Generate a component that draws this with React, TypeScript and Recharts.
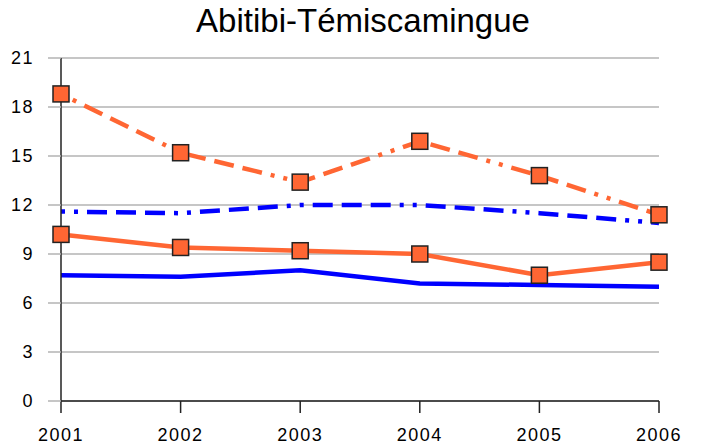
import React from 'react';
import { LineChart, Line, XAxis, YAxis, CartesianGrid } from 'recharts';

const years = ['2001', '2002', '2003', '2004', '2005', '2006'];
const orangeDashed = [18.8, 15.2, 13.4, 15.9, 13.8, 11.4];
const blueDashed = [11.6, 11.5, 12.0, 12.0, 11.5, 10.9];
const orangeSolid = [10.2, 9.4, 9.2, 9.0, 7.7, 8.5];
const blueSolid = [7.7, 7.6, 8.0, 7.2, 7.1, 7.0];
const yTicks = [0, 3, 6, 9, 12, 15, 18, 21];

const data = years.map((year, i) => ({
  year,
  orangeDashed: orangeDashed[i],
  blueDashed: blueDashed[i],
  orangeSolid: orangeSolid[i],
  blueSolid: blueSolid[i],
}));

const ORANGE = '#ff6633';
const BLUE = '#0000ff';
const DASH = '4 9 4 9 20 9 20 9 20 9';

const SquareDot = (props: any) => {
  const { cx, cy } = props;
  if (cx == null || cy == null) return null;
  return <rect x={cx - 8} y={cy - 8} width={16} height={16} fill={ORANGE} stroke="#222" strokeWidth={1.5} />;
};

const tickStyle = { fill: '#000', fontSize: 18, fontFamily: 'Liberation Sans', letterSpacing: 1.5 };

export default function App() {
  return (
    <div style={{ position: 'absolute', left: 0, top: 0, width: 702, height: 446, background: '#fff' }}>
      <div
        style={{
          position: 'absolute',
          top: 4,
          left: 363,
          transform: 'translateX(-50%)',
          fontFamily: 'Liberation Sans',
          fontSize: 33,
          lineHeight: '33px',
          whiteSpace: 'nowrap',
          color: '#000',
        }}
      >
        Abitibi-Témiscamingue
      </div>
      <LineChart width={702} height={446} data={data} margin={{ top: 58, right: 43, bottom: 0, left: 0 }}>
        <CartesianGrid vertical={false} stroke="#b3b3b3" strokeWidth={1.5} />
        <XAxis
          dataKey="year"
          height={45}
          tick={tickStyle}
          tickSize={12}
          tickMargin={15}
          axisLine={{ stroke: '#222', strokeWidth: 1.5 }}
          tickLine={{ stroke: '#222', strokeWidth: 1.5 }}
        />
        <YAxis
          width={61}
          domain={[0, 21]}
          ticks={yTicks}
          interval={0}
          tick={tickStyle}
          tickSize={13}
          tickMargin={14}
          axisLine={{ stroke: '#222', strokeWidth: 1.5 }}
          tickLine={{ stroke: '#b3b3b3', strokeWidth: 1.5 }}
        />
        <Line dataKey="blueSolid" stroke={BLUE} strokeWidth={4.5} dot={false} isAnimationActive={false} />
        <Line dataKey="blueDashed" stroke={BLUE} strokeWidth={4.5} strokeDasharray={DASH} dot={false} isAnimationActive={false} />
        <Line dataKey="orangeSolid" stroke={ORANGE} strokeWidth={4.5} dot={<SquareDot />} isAnimationActive={false} />
        <Line dataKey="orangeDashed" stroke={ORANGE} strokeWidth={4.5} strokeDasharray={DASH} dot={<SquareDot />} isAnimationActive={false} />
      </LineChart>
    </div>
  );
}
